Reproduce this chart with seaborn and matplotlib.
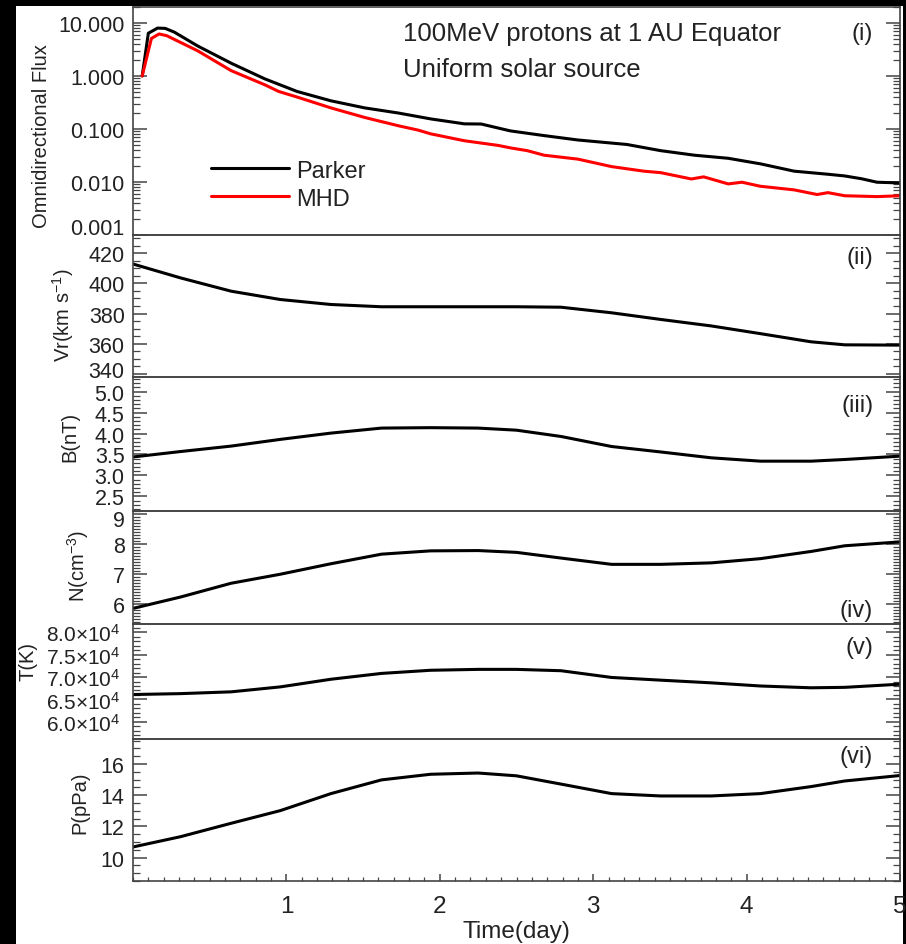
import numpy as np
import pandas as pd
import matplotlib
matplotlib.use("Agg")
import matplotlib.pyplot as plt
import matplotlib.ticker as mticker
from matplotlib.patches import Rectangle
from matplotlib.transforms import ScaledTranslation
import seaborn as sns

# ---------------- data ----------------
parker_days = [0.06, 0.10, 0.16, 0.21, 0.27, 0.42, 0.64, 0.86, 1.07, 1.29, 1.51,
               1.73, 1.94, 2.16, 2.27, 2.46, 2.68, 2.90, 3.22, 3.44, 3.66, 3.88,
               4.09, 4.31, 4.53, 4.64, 4.75, 4.85, 5.0]
parker_flux = [1.0, 6.4, 8.0, 7.9, 6.7, 3.7, 1.74, 0.88, 0.51, 0.34, 0.25,
               0.20, 0.155, 0.125, 0.124, 0.092, 0.075, 0.062, 0.051, 0.039, 0.032, 0.028,
               0.022, 0.016, 0.014, 0.013, 0.0115, 0.0099, 0.0096]

mhd_days = [0.06, 0.12, 0.17, 0.22, 0.42, 0.64, 0.86, 0.95, 1.07, 1.29, 1.51,
            1.73, 1.86, 1.94, 2.16, 2.38, 2.46, 2.57, 2.68, 2.90, 3.12, 3.33,
            3.44, 3.64, 3.72, 3.88, 3.97, 4.09, 4.31, 4.46, 4.53, 4.64, 4.85, 5.0]
mhd_flux = [1.0, 5.1, 6.2, 5.75, 3.0, 1.26, 0.68, 0.51, 0.40, 0.25, 0.165,
            0.115, 0.095, 0.081, 0.060, 0.049, 0.044, 0.039, 0.032, 0.027, 0.0195, 0.016,
            0.015, 0.0114, 0.0125, 0.0092, 0.0099, 0.0083, 0.0071, 0.0058, 0.0063, 0.0055, 0.0053, 0.0055]

sw_days = [0, 0.31, 0.64, 0.96, 1.29, 1.62, 1.94, 2.25, 2.5, 2.79, 3.12,
           3.44, 3.77, 4.09, 4.42, 4.64, 5.0]
vr = [412.8, 403.6, 394.8, 389.3, 386.0, 384.5, 384.5, 384.5, 384.5, 384.2, 380.5,
      376.1, 371.8, 366.7, 361.3, 359.3, 359.1]
bmag = [3.44, 3.57, 3.70, 3.86, 4.01, 4.13, 4.14, 4.13, 4.08, 3.93, 3.69,
        3.56, 3.42, 3.34, 3.34, 3.38, 3.46]
dens = [5.85, 6.23, 6.69, 6.99, 7.34, 7.66, 7.77, 7.78, 7.72, 7.53, 7.32,
        7.32, 7.37, 7.51, 7.75, 7.94, 8.07]
temp = [6.61e4, 6.63e4, 6.67e4, 6.78e4, 6.95e4, 7.08e4, 7.15e4, 7.17e4, 7.17e4, 7.14e4, 6.99e4,
        6.93e4, 6.87e4, 6.80e4, 6.76e4, 6.77e4, 6.84e4]
pres = [10.68, 11.34, 12.20, 13.01, 14.10, 14.98, 15.34, 15.42, 15.24, 14.71, 14.10,
        13.95, 13.95, 14.10, 14.55, 14.91, 15.26]

flux_df = pd.concat([
    pd.DataFrame({"day": parker_days, "flux": parker_flux, "model": "Parker"}),
    pd.DataFrame({"day": mhd_days, "flux": mhd_flux, "model": "MHD"}),
])
sw_df = pd.DataFrame({"day": sw_days, "vr": vr, "b": bmag, "n": dens, "t": temp, "p": pres})

# ---------------- style ----------------
sns.set_style("ticks")
plt.rcParams["font.family"] = ["Liberation Sans", "DejaVu Sans"]
plt.rcParams["mathtext.fontset"] = "custom"
plt.rcParams["mathtext.rm"] = "Liberation Sans"
plt.rcParams["mathtext.it"] = "Liberation Sans:italic"
plt.rcParams["mathtext.bf"] = "Liberation Sans:bold"

TXT = "#222222"
SPINE = "#444444"

fig = plt.figure(figsize=(9.06, 9.45), dpi=100, facecolor="black")
# white page area of the slide
fig.patches.append(Rectangle((16 / 906, 0), 887 / 906, 938 / 945,
                             transform=fig.transFigure, facecolor="white",
                             edgecolor="none", zorder=-10))

left, width = 133 / 906, 767 / 906
bounds = [8, 236, 378, 512, 625, 740, 882]  # pixel rows of panel edges
axes = []
for i in range(6):
    top, bot = bounds[i], bounds[i + 1]
    ax = fig.add_axes([left, 1 - bot / 945, width, (bot - top) / 945])
    ax.set_facecolor("none")
    axes.append(ax)

ax1, ax2, ax3, ax4, ax5, ax6 = axes

# (i) flux
sns.lineplot(data=flux_df, x="day", y="flux", hue="model",
             palette={"Parker": "black", "MHD": "#ff0000"},
             linewidth=2.2, ax=ax1, legend=False, estimator=None, sort=False)
ax1.set_yscale("log")
ax1.set_ylim(0.001, 20)
ax1.yaxis.set_major_locator(mticker.FixedLocator([0.001, 0.01, 0.1, 1, 10]))
ax1.yaxis.set_minor_locator(mticker.LogLocator(base=10, subs=np.arange(2, 10), numticks=20))
ax1.yaxis.set_minor_formatter(mticker.NullFormatter())
ax1.yaxis.set_major_formatter(mticker.FuncFormatter(lambda v, p: "%.3f" % v))
ax1.set_ylabel("Omnidirectional Flux", fontsize=14.5, color=TXT)
ax1.yaxis.set_label_coords(-0.107, 0.44)
ax1.text(0.352, 0.886, "100MeV protons at 1 AU Equator", transform=ax1.transAxes,
         fontsize=18.5, color=TXT, va="center", ha="left")
ax1.text(0.352, 0.728, "Uniform solar source", transform=ax1.transAxes,
         fontsize=18.5, color=TXT, va="center", ha="left")
ax1.plot([], [], color="black", lw=2.2, label="Parker")
ax1.plot([], [], color="#ff0000", lw=2.2, label="MHD")
leg = ax1.legend(loc="upper left", bbox_to_anchor=(0.102, 0.33), frameon=False,
                 fontsize=17, handlelength=3.3, handletextpad=0.3,
                 labelspacing=0.25, borderpad=0, borderaxespad=0)
for t in leg.get_texts():
    t.set_color(TXT)

# (ii) - (vi) solar wind
panels = [
    (ax2, "vr", "Vr(km s$^{\\mathregular{-1}}$)", (338, 432), [340, 360, 380, 400, 420], 5, (-0.074, 0.44), "%d"),
    (ax3, "b", "B(nT)", (2.15, 5.35), [2.5, 3.0, 3.5, 4.0, 4.5, 5.0], 0.1, (-0.070, 0.56), "%.1f"),
    (ax4, "n", "N(cm$^{\\mathregular{-3}}$)", (5.33, 9.1), [6, 7, 8, 9], 0.1, (-0.055, 0.52), "%d"),
    (ax5, "t", "T(K)", (5.62e4, 8.18e4), [6.0e4, 6.5e4, 7.0e4, 7.5e4, 8.0e4], 1000, (-0.124, 0.68), None),
    (ax6, "p", "P(pPa)", (8.5, 17.6), [10, 12, 14, 16], 0.5, (-0.057, 0.56), "%d"),
]
for ax, col, lab, lim, maj, mnr, lc, fmt in panels:
    sns.lineplot(data=sw_df, x="day", y=col, color="black", linewidth=2.2,
                 ax=ax, estimator=None, sort=False)
    ax.set_ylim(*lim)
    ax.yaxis.set_major_locator(mticker.FixedLocator(maj))
    ax.yaxis.set_minor_locator(mticker.MultipleLocator(mnr))
    if fmt is None:
        ax.yaxis.set_major_formatter(mticker.FuncFormatter(
            lambda v, p: "%.1f×10$^{\\mathregular{4}}$" % (v / 1e4)))
    else:
        ax.yaxis.set_major_formatter(mticker.FormatStrFormatter(fmt))
    ax.set_ylabel(lab, fontsize=14.5, color=TXT)
    ax.yaxis.set_label_coords(*lc)

labels = ["(i)", "(ii)", "(iii)", "(iv)", "(v)", "(vi)"]
label_y = [0.886, 0.845, 0.79, 0.124, 0.80, 0.88]
for ax, lab, yy in zip(axes, labels, label_y):
    ax.text(0.965, yy, lab, transform=ax.transAxes, ha="right", va="center",
            fontsize=17, color=TXT)

for ax in axes:
    ax.set_xlim(0, 5)
    for s in ax.spines.values():
        s.set_visible(True)
        s.set_color(SPINE)
        s.set_linewidth(1.2)
    ax.tick_params(axis="y", which="both", direction="in", left=True, right=True,
                   color=SPINE, labelsize=15.5, labelcolor=TXT, pad=6)
    ax.tick_params(axis="y", which="major", length=10, width=1.1)
    ax.tick_params(axis="y", which="minor", length=5, width=0.9)
    ax.set_xlabel("")
    if ax is not ax6:
        ax.tick_params(axis="x", which="both", bottom=False, top=False,
                       labelbottom=False)

ax5.tick_params(axis="y", labelsize=15, pad=9)


def nudge(label, dy_px):
    label.set_transform(label.get_transform()
                        + ScaledTranslation(0, dy_px / 100, fig.dpi_scale_trans))


# edge labels shifted a little, as in the original
nudge(ax1.get_yticklabels()[0], 9)
nudge(ax2.get_yticklabels()[0], 5)
nudge(ax4.get_yticklabels()[-1], -4)

ax6.xaxis.set_major_locator(mticker.FixedLocator([1, 2, 3, 4, 5]))
ax6.xaxis.set_minor_locator(mticker.MultipleLocator(0.1))
ax6.tick_params(axis="x", which="both", direction="in", bottom=True, top=False,
                color=SPINE, labelsize=17.5, labelcolor=TXT, pad=10)
ax6.tick_params(axis="x", which="major", length=5, width=1.1)
ax6.tick_params(axis="x", which="minor", length=3, width=0.9)
ax6.set_xlabel("Time(day)", fontsize=17.5, color=TXT, labelpad=2)

fig.savefig("out.png", dpi=100, facecolor=fig.get_facecolor())
